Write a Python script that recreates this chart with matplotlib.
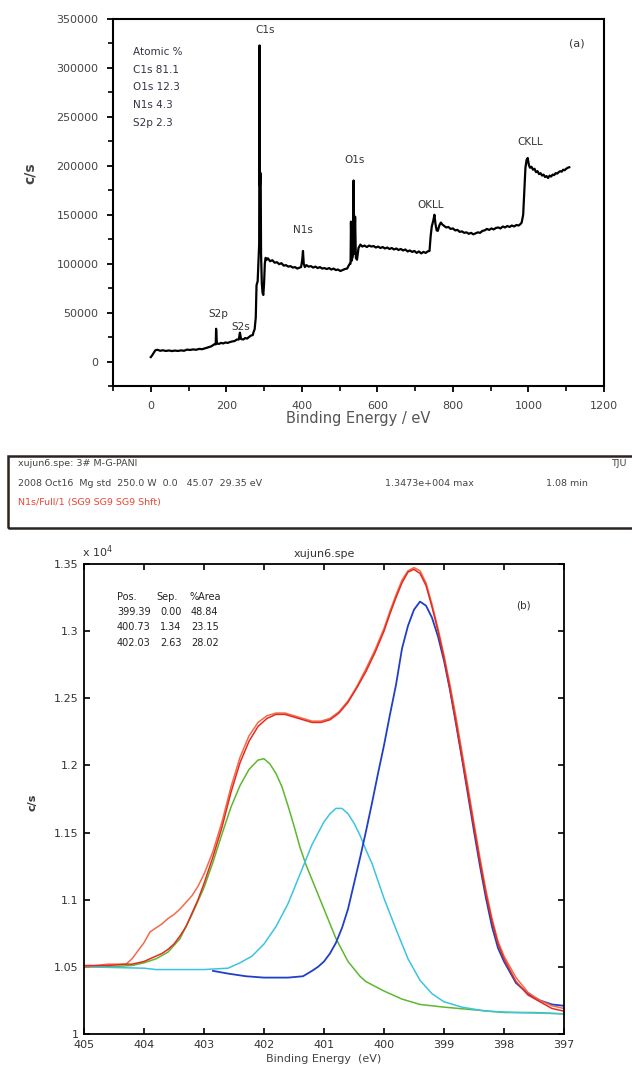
import matplotlib
matplotlib.use('Agg')
import matplotlib.pyplot as plt
from matplotlib.patches import Rectangle

plt.rcParams['font.family'] = ['DejaVu Sans']

# ---------------- data: panel (a) survey spectrum ----------------
survey_energy = [0, 4, 8, 12, 18, 25, 32, 40, 48, 56,
                 64, 72, 80, 88, 96, 104, 112, 120, 128, 136,
                 144, 152, 160, 166, 170, 172, 173, 175, 180, 186,
                 192, 198, 204, 210, 216, 222, 228, 233, 236, 239,
                 245, 250, 255, 260, 265, 270, 272, 275, 278, 280,
                 283, 285, 287, 288, 289, 290, 291, 292, 294, 296,
                 298, 300, 302, 304, 307, 310, 316, 322, 328, 334,
                 340, 346, 352, 358, 364, 370, 376, 382, 388, 394,
                 398, 401, 403, 405, 408, 412, 418, 424, 430, 436,
                 442, 448, 454, 460, 466, 472, 478, 484, 490, 496,
                 502, 508, 514, 520, 524, 527, 529, 530, 532, 535,
                 537, 539, 541, 543, 546, 550, 555, 560, 566, 572,
                 578, 584, 590, 596, 602, 608, 614, 620, 626, 632,
                 638, 644, 650, 656, 662, 668, 674, 680, 686, 692,
                 698, 704, 710, 716, 722, 728, 733, 738, 741, 744,
                 748, 751, 754, 757, 760, 764, 768, 772, 777, 782,
                 788, 794, 800, 806, 812, 818, 824, 830, 836, 842,
                 848, 854, 860, 866, 872, 878, 884, 890, 896, 902,
                 908, 914, 920, 926, 932, 938, 944, 950, 956, 962,
                 968, 974, 979, 982, 986, 989, 992, 995, 998, 1001,
                 1004, 1008, 1012, 1016, 1020, 1024, 1028, 1032, 1036, 1040,
                 1044, 1048, 1052, 1056, 1060, 1064, 1068, 1072, 1076, 1080,
                 1084, 1088, 1092, 1096, 1100, 1104, 1108]
survey_counts = [4500, 6500, 9000, 11500, 12000, 11000, 11500, 10800, 11300, 10700,
                 11200, 10800, 11400, 11000, 12200, 11800, 12400, 12000, 12900, 12600,
                 13500, 14500, 15500, 17000, 18000, 17500, 33500, 18500, 18000, 19000,
                 18500, 19500, 19000, 20000, 20500, 21000, 22500, 22500, 29500, 23000,
                 22500, 24000, 23500, 25000, 26500, 27000, 30000, 33000, 45000, 78000,
                 82000, 100000, 120000, 323000, 180000, 193000, 190000, 110000, 80000, 70000,
                 68000, 80000, 100000, 106000, 104000, 105500, 102500, 103500, 101000, 101500,
                 99500, 100500, 98000, 98500, 97000, 97500, 96000, 96500, 95000, 96000,
                 96500, 104000, 113000, 100000, 96500, 98500, 97000, 97500, 96000, 97000,
                 95500, 96500, 95000, 95500, 94500, 95500, 94000, 95000, 93500, 94000,
                 92500, 93500, 94500, 95000, 98000, 100000, 100000, 143000, 103000, 108000,
                 185000, 110000, 148000, 106000, 104000, 116000, 119500, 117500, 118500, 117000,
                 118500, 117500, 118000, 116500, 117500, 116000, 117000, 115500, 116500, 115000,
                 116000, 114500, 115500, 114000, 115000, 113500, 114500, 112500, 113500, 112000,
                 113000, 111000, 112500, 110500, 112000, 111000, 112500, 113000, 128000, 138000,
                 144000, 150000, 140000, 134000, 133500, 139000, 142000, 140000, 138500, 137000,
                 137500, 135500, 136000, 134000, 134500, 132500, 133000, 131500, 132000, 130500,
                 131500, 130000, 131000, 132000, 131500, 133500, 134000, 135500, 134500, 136000,
                 135000, 136500, 137000, 136000, 138000, 137000, 138500, 137500, 139000, 138000,
                 139500, 139000, 140500, 142000, 150000, 175000, 198000, 206000, 208000, 201000,
                 198000, 199000, 196000, 197000, 193500, 194500, 191500, 192500, 190000, 191000,
                 188500, 189500, 187500, 190000, 189000, 191000, 190500, 192500, 192000, 193500,
                 194500, 194000, 196000, 195500, 197000, 198000, 198500]
survey_xticks = [0, 200, 400, 600, 800, 1000, 1200]
survey_yticks = [0, 50000, 100000, 150000, 200000, 250000, 300000, 350000]
atomic_lines = ['Atomic %', 'C1s 81.1', 'O1s 12.3', 'N1s 4.3', 'S2p 2.3']

# ---------------- data: panel (b) N1s high resolution ----------------
n1s_energy = [405.0, 404.6, 404.3, 404.2, 404.1, 404.0, 403.9, 403.8, 403.7, 403.6, 403.5,
              403.4, 403.3, 403.2, 403.1, 403.0, 402.85, 402.7, 402.55, 402.4, 402.25,
              402.1, 401.95, 401.8, 401.65, 401.5, 401.35, 401.2, 401.05, 400.9, 400.75,
              400.6, 400.45, 400.3, 400.15, 400.0, 399.9, 399.8, 399.7, 399.6, 399.5,
              399.4, 399.3, 399.2, 399.1, 399.0, 398.9, 398.8, 398.7, 398.6, 398.5, 398.4,
              398.3, 398.2, 398.1, 398.0, 397.8, 397.6, 397.4, 397.2, 397.0]
n1s_raw = [1.050, 1.052, 1.052, 1.056, 1.062, 1.068, 1.076, 1.079, 1.082, 1.086, 1.089,
           1.093, 1.098, 1.103, 1.110, 1.119, 1.136, 1.158, 1.184, 1.206, 1.222,
           1.232, 1.237, 1.239, 1.239, 1.237, 1.235, 1.233, 1.233, 1.235, 1.240,
           1.248, 1.259, 1.272, 1.286, 1.302, 1.315, 1.327, 1.338, 1.345, 1.3473,
           1.345, 1.336, 1.320, 1.302, 1.282, 1.260, 1.236, 1.210, 1.184, 1.157, 1.131,
           1.107, 1.086, 1.069, 1.058, 1.042, 1.031, 1.025, 1.021, 1.019]
n1s_fit = [1.051, 1.051, 1.052, 1.052, 1.053, 1.054, 1.056, 1.058, 1.060, 1.063, 1.067,
           1.073, 1.080, 1.090, 1.100, 1.112, 1.132, 1.154, 1.180, 1.202, 1.218,
           1.229, 1.235, 1.238, 1.238, 1.236, 1.234, 1.232, 1.232, 1.234, 1.239,
           1.247, 1.258, 1.270, 1.284, 1.300, 1.313, 1.325, 1.336, 1.344, 1.346,
           1.343, 1.334, 1.318, 1.300, 1.280, 1.257, 1.232, 1.206, 1.180, 1.154, 1.128,
           1.104, 1.084, 1.067, 1.056, 1.039, 1.029, 1.024, 1.019, 1.017]

comp3_energy = [405.0, 404.6, 404.2, 404.0, 403.8, 403.6, 403.4, 403.2, 403.0, 402.85,
                402.7, 402.55, 402.4, 402.25, 402.1, 402.0, 401.9, 401.8, 401.7, 401.6,
                401.5, 401.4, 401.3, 401.2, 401.1, 401.0, 400.9, 400.8, 400.6, 400.4,
                400.3, 400.0, 399.7, 399.4, 399.0, 398.5, 398.0, 397.5, 397.0]
comp3_counts = [1.050, 1.050, 1.051, 1.053, 1.056, 1.061, 1.071, 1.089, 1.109, 1.128,
                1.149, 1.169, 1.185, 1.197, 1.204, 1.205, 1.201, 1.194, 1.184, 1.170,
                1.155, 1.139, 1.126, 1.115, 1.104, 1.093, 1.082, 1.071, 1.054, 1.043,
                1.039, 1.032, 1.026, 1.022, 1.020, 1.018, 1.016, 1.016, 1.015]

comp2_energy = [405.0, 404.0, 403.8, 403.0, 402.6, 402.4, 402.2, 402.0, 401.8, 401.6,
                401.4, 401.2, 401.0, 400.9, 400.8, 400.7, 400.6, 400.5, 400.4, 400.3,
                400.2, 400.0, 399.8, 399.6, 399.4, 399.2, 399.0, 398.7, 398.3, 397.8,
                397.0]
comp2_counts = [1.050, 1.049, 1.048, 1.048, 1.049, 1.053, 1.058, 1.067, 1.080, 1.097,
                1.119, 1.141, 1.158, 1.164, 1.168, 1.168, 1.164, 1.157, 1.148, 1.137,
                1.127, 1.101, 1.078, 1.056, 1.040, 1.030, 1.024, 1.020, 1.017, 1.016,
                1.015]

comp1_energy = [402.85, 402.6, 402.3, 402.0, 401.6, 401.35, 401.2, 401.1, 401.0, 400.9,
                400.8, 400.7, 400.6, 400.5, 400.4, 400.3, 400.2, 400.1, 400.0, 399.9,
                399.8, 399.7, 399.6, 399.5, 399.4, 399.3, 399.2, 399.1, 399.0, 398.9,
                398.8, 398.7, 398.6, 398.5, 398.4, 398.3, 398.2, 398.1, 398.0, 397.8,
                397.6, 397.4, 397.2, 397.0]
comp1_counts = [1.047, 1.045, 1.043, 1.042, 1.042, 1.043, 1.047, 1.050, 1.054, 1.060,
                1.068, 1.079, 1.093, 1.112, 1.131, 1.151, 1.172, 1.194, 1.215, 1.238,
                1.260, 1.287, 1.304, 1.316, 1.322, 1.319, 1.310, 1.296, 1.278, 1.256,
                1.231, 1.205, 1.178, 1.151, 1.125, 1.101, 1.080, 1.064, 1.054, 1.038,
                1.030, 1.025, 1.022, 1.021]

n1s_xticks = [405, 404, 403, 402, 401, 400, 399, 398, 397]
n1s_yticks = [1.0, 1.05, 1.1, 1.15, 1.2, 1.25, 1.3, 1.35]
n1s_ytick_labels = ['1', '1.05', '1.1', '1.15', '1.2', '1.25', '1.3', '1.35']
fit_pos = ['399.39', '400.73', '402.03']
fit_sep = ['0.00', '1.34', '2.63']
fit_area = ['48.84', '23.15', '28.02']

header_row1 = 'xujun6.spe: 3# M-G-PANI'
header_row2 = ['2008 Oct16  Mg std  250.0 W  0.0   45.07  29.35 eV', '1.3473e+004 max', '1.08 min']
header_row3 = 'N1s/Full/1 (SG9 SG9 SG9 Shft)'

# ---------------- figure ----------------
W, H = 632, 1072
fig = plt.figure(figsize=(W / 100, H / 100), dpi=100)
fig.patch.set_facecolor('white')


def fx(x):
    return x / W


def fy(y):
    return 1 - y / H


txt = '#333333'

# ----- panel (a)
ax1 = fig.add_axes([fx(113), fy(386), fx(604) - fx(113), fy(19) - fy(386)])
ax1.plot(survey_energy, survey_counts, color='black', lw=1.6)
ax1.set_xlim(-100, 1200)
ax1.set_ylim(-25000, 350000)
ax1.set_xticks(survey_xticks, labels=[str(v) for v in survey_xticks])
ax1.set_yticks(survey_yticks, labels=[str(v) for v in survey_yticks])
ax1.set_xticks([-100, 100, 300, 500, 700, 900, 1100], minor=True)
ax1.set_yticks([-25000, 25000, 75000, 125000, 175000, 225000, 275000, 325000], minor=True)
ax1.tick_params(which='major', direction='out', length=4.5, width=1.3, labelsize=8,
                labelcolor='#444444', pad=6)
ax1.tick_params(which='minor', direction='out', length=3.5, width=1.2)
for s in ax1.spines.values():
    s.set_linewidth(1.5)
ax1.set_xlabel('Binding Energy / eV', fontsize=10.5, color='#555555', labelpad=0)
ax1.set_ylabel('c/s', fontsize=10, fontweight='bold', color='#444444')
ax1.yaxis.set_label_coords(-0.155, 0.58)

peak_labels = [('C1s', 302, 339000), ('O1s', 540, 206000), ('N1s', 404, 134500),
               ('OKLL', 742, 159500), ('CKLL', 1004, 224500), ('S2p', 178, 48600),
               ('S2s', 239, 35200)]
for name, ex, ey in peak_labels:
    ax1.text(ex, ey, name, ha='center', va='center', fontsize=7.5, color=txt)
for i, line in enumerate(atomic_lines):
    fig.text(fx(133), fy(52 + i * 17.7), line, ha='left', va='center', fontsize=7.5, color='#333344')
fig.text(fx(577), fy(44), '(a)', ha='center', va='center', fontsize=8, color=txt)

# ----- header box
fig.patches.append(Rectangle((fx(8), fy(528)), fx(700) - fx(8), fy(456) - fy(528),
                             transform=fig.transFigure, fill=False, lw=1.8, ec='#2a2420'))
fig.text(fx(18), fy(464), header_row1, ha='left', va='center', fontsize=6.8, color='#444444')
fig.text(fx(611), fy(464), 'TJU', ha='left', va='center', fontsize=6.8, color='#444444')
fig.text(fx(18), fy(484), header_row2[0], ha='left', va='center', fontsize=6.8, color='#444444')
fig.text(fx(385), fy(484), header_row2[1], ha='left', va='center', fontsize=6.8, color='#444444')
fig.text(fx(546), fy(484), header_row2[2], ha='left', va='center', fontsize=6.8, color='#444444')
fig.text(fx(18), fy(503), header_row3, ha='left', va='center', fontsize=6.8, color='#ee4433')

# ----- panel (b)
ax2 = fig.add_axes([fx(84), fy(1034), fx(564) - fx(84), fy(564) - fy(1034)])
ax2.plot(comp3_energy, comp3_counts, color='#5cb82e', lw=1.1)
ax2.plot(comp2_energy, comp2_counts, color='#3cc3e3', lw=1.1)
ax2.plot(comp1_energy, comp1_counts, color='#1f3fc8', lw=1.3)
ax2.plot(n1s_energy, n1s_raw, color='#f26a4a', lw=1.1)
ax2.plot(n1s_energy, n1s_fit, color='#e82a1e', lw=1.1)
ax2.set_xlim(405, 397)
ax2.set_ylim(1.0, 1.35)
ax2.set_xticks(n1s_xticks, labels=[str(v) for v in n1s_xticks])
ax2.set_yticks(n1s_yticks, labels=n1s_ytick_labels)
ax2.tick_params(which='major', direction='in', length=4.5, width=1.2, labelsize=8,
                labelcolor='#333333', top=True, right=True)
ax2.tick_params(axis='y', pad=4)
ax2.tick_params(axis='x', pad=4)
for s in ax2.spines.values():
    s.set_linewidth(1.3)
ax2.set_xlabel('Binding Energy  (eV)', fontsize=8, color='#444444', labelpad=3)
ax2.set_ylabel('c/s', fontsize=8, fontweight='bold', color='#333333')
ax2.yaxis.set_label_coords(-0.096, 0.494)
ax2.set_title('xujun6.spe', fontsize=8, color='#333333', pad=5)
fig.text(fx(82), fy(552), r'x 10$^4$', ha='left', va='center', fontsize=8, color='#333333')

col_x = [117, 160, 191]
fig.text(fx(117), fy(597), 'Pos.', ha='left', va='center', fontsize=7, color='#222222')
fig.text(fx(156), fy(597), 'Sep.', ha='left', va='center', fontsize=7, color='#222222')
fig.text(fx(189), fy(597), '%Area', ha='left', va='center', fontsize=7, color='#222222')
for i in range(len(fit_pos)):
    yy = fy(612 + i * 15.3)
    fig.text(fx(col_x[0]), yy, fit_pos[i], ha='left', va='center', fontsize=7, color='#222222')
    fig.text(fx(col_x[1]), yy, fit_sep[i], ha='left', va='center', fontsize=7, color='#222222')
    fig.text(fx(col_x[2]), yy, fit_area[i], ha='left', va='center', fontsize=7, color='#222222')
fig.text(fx(523), fy(605), '(b)', ha='center', va='center', fontsize=7.5, color='#333333')

fig.savefig('out.png', dpi=100)
